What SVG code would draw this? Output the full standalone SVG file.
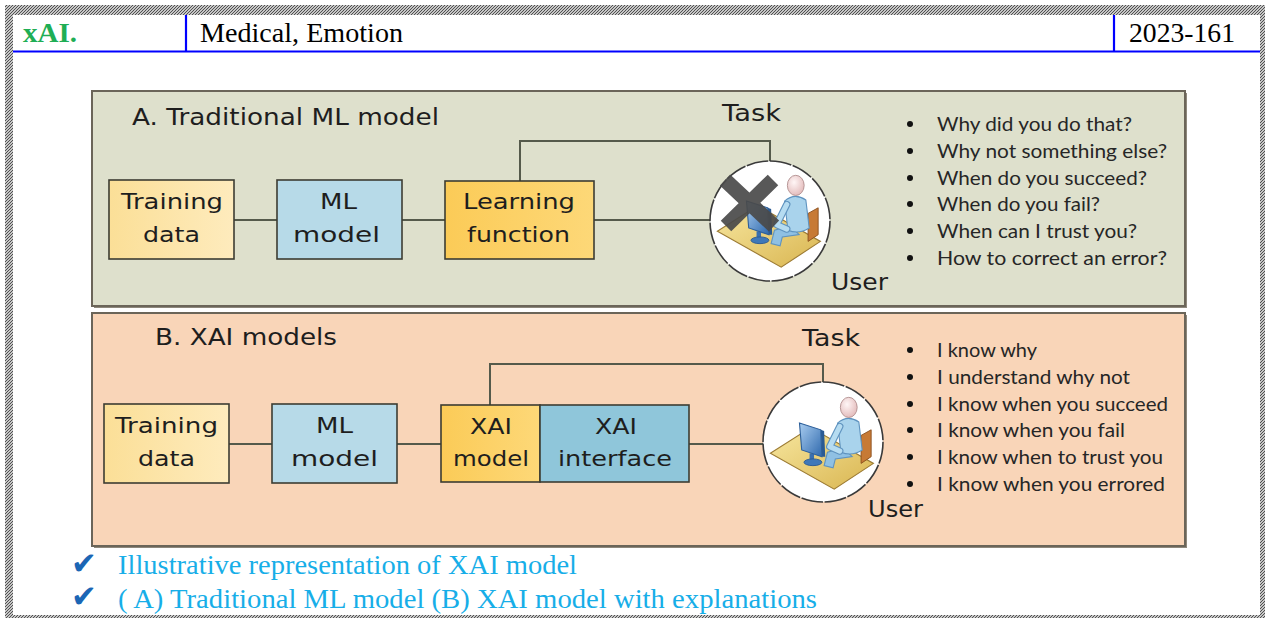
<svg xmlns="http://www.w3.org/2000/svg" xmlns:xlink="http://www.w3.org/1999/xlink" width="1266" height="618" viewBox="0 0 1266 618">
  <defs>
    <style>
      .hdr { font-family: "Liberation Serif", "Times New Roman", serif; font-size: 27px; fill: #000; }
      .tag { font-family: "Liberation Serif", "Times New Roman", serif; font-size: 27px; font-weight: bold; fill: #1fae55; }
      .cap { font-family: "Liberation Serif", "Times New Roman", serif; font-size: 27px; fill: #17aee8; }
      .chk { font-family: "DejaVu Sans", sans-serif; font-size: 31px; fill: #1b66b5; }
      .title { font-family: "DejaVu Sans", Verdana, sans-serif; font-size: 23px; fill: #1e1e1e; }
      .lbl { font-family: "DejaVu Sans", Verdana, sans-serif; font-size: 21px; fill: #1e1e1e; }
      .item { font-family: Lato, "Open Sans", sans-serif; font-size: 19px; fill: #262626; }
      .panel { stroke: #6b6559; stroke-width: 2; }
      .box { stroke: #3c3c32; stroke-width: 1.6; }
      .wire { fill: none; stroke: #555a4b; stroke-width: 2; }
      .dot { fill: #111; }
      .ring { fill: #fff; stroke: #3a3a3a; stroke-width: 1.6; stroke-dasharray: 22 1.5; }
    </style>
    <pattern id="hatch" patternUnits="userSpaceOnUse" width="3" height="3">
      <rect width="3" height="3" fill="#fff"/>
      <path d="M-1,1 L1,-1 M0,3 L3,0 M2,4 L4,2" stroke="#4a4a4a" stroke-width="1.2"/>
    </pattern>
    <linearGradient id="gYellow" x1="0" y1="0" x2="1" y2="0">
      <stop offset="0" stop-color="#fbdf97"/>
      <stop offset="1" stop-color="#feebbd"/>
    </linearGradient>
    <linearGradient id="gOrange" x1="0" y1="0" x2="1" y2="0">
      <stop offset="0" stop-color="#fbcb57"/>
      <stop offset="1" stop-color="#fdd878"/>
    </linearGradient>
    <linearGradient id="gFloor" x1="0" y1="0" x2="1" y2="1">
      <stop offset="0" stop-color="#f7e7a0"/>
      <stop offset="1" stop-color="#d9b550"/>
    </linearGradient>
    <linearGradient id="gMonitor" x1="0" y1="0" x2="1" y2="1">
      <stop offset="0" stop-color="#a9cdf0"/>
      <stop offset="1" stop-color="#2f69ad"/>
    </linearGradient>
    <radialGradient id="gHead" cx="0.4" cy="0.35" r="0.7">
      <stop offset="0" stop-color="#fff6f6"/>
      <stop offset="1" stop-color="#e2b9b9"/>
    </radialGradient>
    <!-- seated user at a desk, drawn around (0,0) -->
    <g id="userFigure">
      <polygon points="-47,11 -11,-12 45,20 10,43" fill="url(#gFloor)" stroke="#9c7b34" stroke-width="1"/>
      <polygon points="34,-5 43,-10 43,14 34,20" fill="#c77a35" stroke="#8a4f1e" stroke-width="0.8"/>
      <path d="M18,6 L4,10 L1,22 L9,24 L11,16 L26,14 Z" fill="#8fc0e3" stroke="#5f93bf" stroke-width="1"/>
      <path d="M13,-16 Q22,-24 32,-17 L35,8 Q26,14 16,10 Z" fill="#a9d3ec" stroke="#5f93bf" stroke-width="1"/>
      <path d="M15,-13 L6,5 L15,9" fill="none" stroke="#5f93bf" stroke-width="6.5" stroke-linecap="round" stroke-linejoin="round"/>
      <path d="M15,-13 L6,5 L15,9" fill="none" stroke="#b6dcf1" stroke-width="4.5" stroke-linecap="round" stroke-linejoin="round"/>
      <ellipse cx="23" cy="-30" rx="7.5" ry="9" fill="url(#gHead)" stroke="#b08e8e" stroke-width="0.8"/>
      <rect x="-12" y="11" width="4" height="7" fill="#3a6fae"/>
      <ellipse cx="-9" cy="19" rx="8" ry="3" fill="#3f78b8" stroke="#2a5a93" stroke-width="0.8"/>
      <polygon points="-2,-10 1,-9 2,14 -1,14" fill="#2a5a93"/>
      <polygon points="-21,-16 -2,-10 -1,14 -19,8" fill="url(#gMonitor)" stroke="#2d5f9a" stroke-width="1"/>
    </g>
  </defs>

  <!-- page frame -->
  <rect x="5" y="5" width="1260" height="613" fill="url(#hatch)"/>
  <rect x="13" y="15" width="1247" height="600" fill="#fff"/>

  <!-- header row -->
  <g id="header">
    <line x1="13" y1="51.5" x2="1260" y2="51.5" stroke="#0000ff" stroke-width="2.2"/>
    <line x1="186" y1="15" x2="186" y2="51" stroke="#0000ff" stroke-width="2.2"/>
    <line x1="1114" y1="15" x2="1114" y2="51" stroke="#0000ff" stroke-width="2.2"/>
    <text class="tag" x="23" y="42" textLength="54" lengthAdjust="spacingAndGlyphs">xAI.</text>
    <text class="hdr" x="200" y="42" textLength="203" lengthAdjust="spacingAndGlyphs">Medical, Emotion</text>
    <text class="hdr" x="1129" y="42" textLength="106" lengthAdjust="spacingAndGlyphs">2023-161</text>
  </g>

  <!-- panel A: traditional pipeline -->
  <g id="panelA">
    <rect x="94" y="93" width="1093" height="215" fill="#8e887c"/>
    <rect x="92" y="91" width="1093" height="215" fill="#dee0cc" class="panel"/>
    <text class="title" x="132" y="125" textLength="307" lengthAdjust="spacingAndGlyphs">A. Traditional ML model</text>
    <text class="title" x="722" y="121" textLength="59" lengthAdjust="spacingAndGlyphs">Task</text>
    <text class="title" x="831" y="290" textLength="57" lengthAdjust="spacingAndGlyphs">User</text>
  </g>

  <!-- panel B: explainable pipeline -->
  <g id="panelB">
    <rect x="94" y="315" width="1093" height="233" fill="#8e887c"/>
    <rect x="92" y="313" width="1093" height="233" fill="#f9d5b8" class="panel"/>
    <text class="title" x="155" y="345" textLength="182" lengthAdjust="spacingAndGlyphs">B. XAI models</text>
    <text class="title" x="802" y="346" textLength="58" lengthAdjust="spacingAndGlyphs">Task</text>
    <text class="title" x="868" y="517" textLength="55" lengthAdjust="spacingAndGlyphs">User</text>
  </g>

  <!-- connectors -->
  <g id="connectors">
    <line class="wire" x1="234" y1="220" x2="277" y2="220"/>
    <line class="wire" x1="402" y1="220" x2="445" y2="220"/>
    <line class="wire" x1="594" y1="220" x2="710" y2="220"/>
    <polyline class="wire" points="520,181 520,141 770,141 770,161"/>
    <line class="wire" x1="229" y1="444" x2="272" y2="444"/>
    <line class="wire" x1="397" y1="444" x2="441" y2="444"/>
    <line class="wire" x1="689" y1="444" x2="763" y2="444"/>
    <polyline class="wire" points="490,405 490,364 823,364 823,382"/>
  </g>

  <!-- panel A nodes -->
  <g id="a-training-data">
    <rect class="box" x="109" y="180" width="125" height="79" fill="url(#gYellow)"/>
    <text class="lbl" x="121" y="209" textLength="102" lengthAdjust="spacingAndGlyphs">Training</text>
    <text class="lbl" x="143" y="242" textLength="57" lengthAdjust="spacingAndGlyphs">data</text>
  </g>
  <g id="a-ml-model">
    <rect class="box" x="277" y="180" width="125" height="79" fill="#b7dae8"/>
    <text class="lbl" x="320" y="209" textLength="37" lengthAdjust="spacingAndGlyphs">ML</text>
    <text class="lbl" x="293" y="242" textLength="87" lengthAdjust="spacingAndGlyphs">model</text>
  </g>
  <g id="a-learning-function">
    <rect class="box" x="445" y="181" width="149" height="78" fill="url(#gOrange)"/>
    <text class="lbl" x="463" y="209" textLength="112" lengthAdjust="spacingAndGlyphs">Learning</text>
    <text class="lbl" x="467" y="242" textLength="103" lengthAdjust="spacingAndGlyphs">function</text>
  </g>
  <g id="a-user">
    <circle class="ring" cx="770" cy="221" r="60"/>
    <use xlink:href="#userFigure" href="#userFigure" transform="translate(770,219) scale(1.12)"/>
    <path d="M725,180 L774,226 M773,180 L726,226" stroke="#4a4a4a" stroke-width="15" opacity="0.92"/>
  </g>
  <g id="a-questions">
    <circle class="dot" cx="910" cy="124" r="3"/>
    <circle class="dot" cx="910" cy="151" r="3"/>
    <circle class="dot" cx="910" cy="178" r="3"/>
    <circle class="dot" cx="910" cy="204" r="3"/>
    <circle class="dot" cx="910" cy="231" r="3"/>
    <circle class="dot" cx="910" cy="258" r="3"/>
    <text class="item" x="937" y="131" textLength="195" lengthAdjust="spacingAndGlyphs">Why did you do that?</text>
    <text class="item" x="937" y="158" textLength="230" lengthAdjust="spacingAndGlyphs">Why not something else?</text>
    <text class="item" x="937" y="185" textLength="210" lengthAdjust="spacingAndGlyphs">When do you succeed?</text>
    <text class="item" x="937" y="211" textLength="163" lengthAdjust="spacingAndGlyphs">When do you fail?</text>
    <text class="item" x="937" y="238" textLength="200" lengthAdjust="spacingAndGlyphs">When can I trust you?</text>
    <text class="item" x="937" y="265" textLength="230" lengthAdjust="spacingAndGlyphs">How to correct an error?</text>
  </g>

  <!-- panel B nodes -->
  <g id="b-training-data">
    <rect class="box" x="104" y="404" width="125" height="79" fill="url(#gYellow)"/>
    <text class="lbl" x="115" y="433" textLength="103" lengthAdjust="spacingAndGlyphs">Training</text>
    <text class="lbl" x="138" y="466" textLength="57" lengthAdjust="spacingAndGlyphs">data</text>
  </g>
  <g id="b-ml-model">
    <rect class="box" x="272" y="404" width="125" height="79" fill="#b7dae8"/>
    <text class="lbl" x="316" y="433" textLength="37" lengthAdjust="spacingAndGlyphs">ML</text>
    <text class="lbl" x="291" y="466" textLength="87" lengthAdjust="spacingAndGlyphs">model</text>
  </g>
  <g id="b-xai-model">
    <rect class="box" x="441" y="405" width="99" height="77" fill="url(#gOrange)"/>
    <text class="lbl" x="470" y="434" textLength="42" lengthAdjust="spacingAndGlyphs">XAI</text>
    <text class="lbl" x="453" y="466" textLength="76" lengthAdjust="spacingAndGlyphs">model</text>
  </g>
  <g id="b-xai-interface">
    <rect class="box" x="540" y="405" width="149" height="77" fill="#8fc6da"/>
    <text class="lbl" x="595" y="434" textLength="42" lengthAdjust="spacingAndGlyphs">XAI</text>
    <text class="lbl" x="558" y="466" textLength="114" lengthAdjust="spacingAndGlyphs">interface</text>
  </g>
  <g id="b-user">
    <circle class="ring" cx="823" cy="442" r="60"/>
    <use xlink:href="#userFigure" href="#userFigure" transform="translate(823,441) scale(1.12)"/>
  </g>
  <g id="b-answers">
    <circle class="dot" cx="910" cy="350" r="3"/>
    <circle class="dot" cx="910" cy="377" r="3"/>
    <circle class="dot" cx="910" cy="404" r="3"/>
    <circle class="dot" cx="910" cy="430" r="3"/>
    <circle class="dot" cx="910" cy="457" r="3"/>
    <circle class="dot" cx="910" cy="484" r="3"/>
    <text class="item" x="937" y="357" textLength="100" lengthAdjust="spacingAndGlyphs">I know why</text>
    <text class="item" x="937" y="384" textLength="193" lengthAdjust="spacingAndGlyphs">I understand why not</text>
    <text class="item" x="937" y="411" textLength="231" lengthAdjust="spacingAndGlyphs">I know when you succeed</text>
    <text class="item" x="937" y="437" textLength="188" lengthAdjust="spacingAndGlyphs">I know when you fail</text>
    <text class="item" x="937" y="464" textLength="226" lengthAdjust="spacingAndGlyphs">I know when to trust you</text>
    <text class="item" x="937" y="491" textLength="228" lengthAdjust="spacingAndGlyphs">I know when you errored</text>
  </g>

  <!-- caption lines -->
  <g id="caption">
    <text class="chk" x="71" y="574">✔</text>
    <text class="chk" x="71" y="607">✔</text>
    <text class="cap" x="118" y="574" textLength="459" lengthAdjust="spacingAndGlyphs">Illustrative representation of XAI model</text>
    <text class="cap" x="118" y="608" textLength="699" lengthAdjust="spacingAndGlyphs">( A) Traditional ML model (B) XAI model with explanations</text>
  </g>
</svg>
